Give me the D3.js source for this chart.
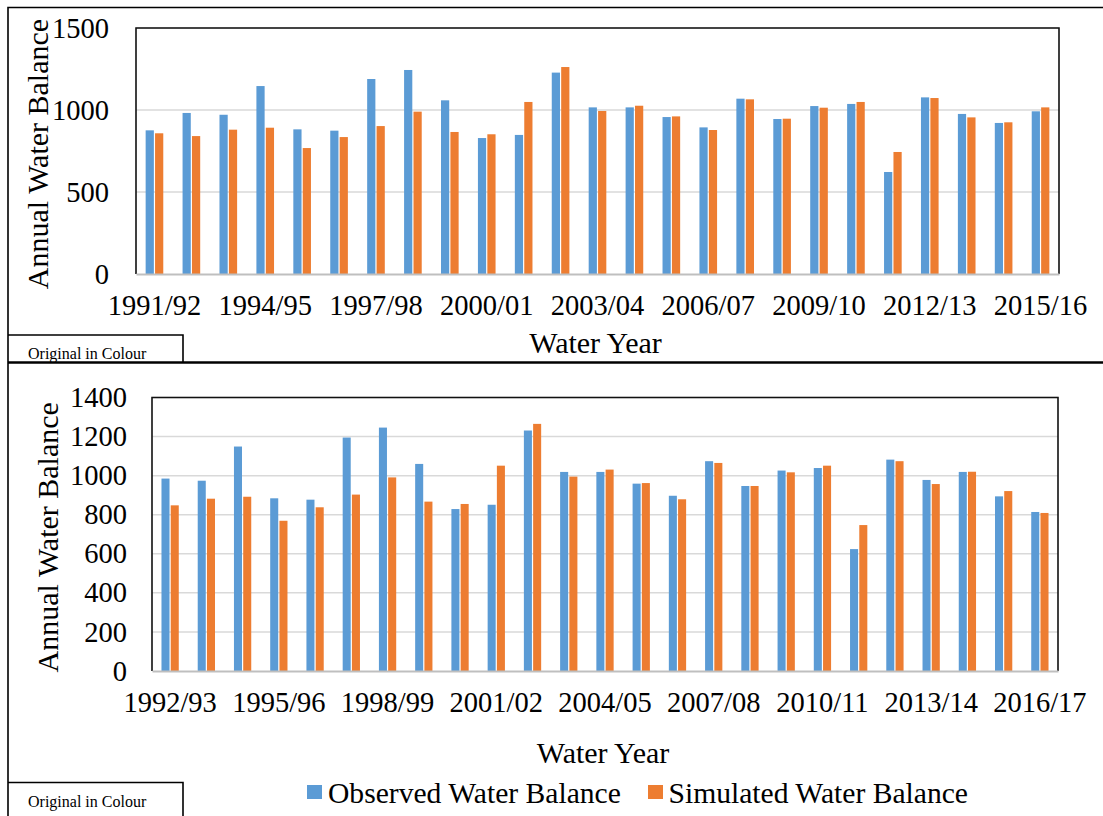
<!DOCTYPE html>
<html>
<head>
<meta charset="utf-8">
<script src="https://cdn.jsdelivr.net/npm/d3@7"></script>
<style>
  html, body { margin: 0; padding: 0; background: #fff; }
  svg { display: block; }
  text { font-family: "Liberation Serif", "Times New Roman", serif; fill: #000; }
</style>
</head>
<body>
<svg id="chart" width="1103" height="816"></svg>
<script>
// ---------- data ----------
const seriesNames = ["Observed Water Balance", "Simulated Water Balance"];
const seriesColors = ["#5B9BD5", "#ED7D31"];

const topCategories = ["1991/92","1992/93","1993/94","1994/95","1995/96","1996/97","1997/98","1998/99","1999/00","2000/01",
  "2001/02","2002/03","2003/04","2004/05","2005/06","2006/07","2007/08","2008/09","2009/10","2010/11",
  "2011/12","2012/13","2013/14","2014/15","2015/16"];
const topObserved  = [876, 982, 971, 1146, 882, 874, 1189, 1244, 1059, 829, 848, 1228, 1016, 1016, 957, 894, 1069, 945, 1024, 1037, 622, 1077, 976, 921, 992];
const topSimulated = [858, 841, 880, 892, 768, 835, 902, 990, 866, 852, 1049, 1262, 994, 1026, 961, 878, 1065, 947, 1014, 1049, 744, 1073, 955, 925, 1016];
const topYTicks = [0, 500, 1000, 1500];
const topXTicks = ["1991/92","1994/95","1997/98","2000/01","2003/04","2006/07","2009/10","2012/13","2015/16"];

const bottomCategories = ["1992/93","1993/94","1994/95","1995/96","1996/97","1997/98","1998/99","1999/00","2000/01","2001/02",
  "2002/03","2003/04","2004/05","2005/06","2006/07","2007/08","2008/09","2009/10","2010/11","2011/12",
  "2012/13","2013/14","2014/15","2015/16","2016/17"];
const bottomObserved  = [985, 974, 1149, 884, 877, 1195, 1246, 1060, 829, 851, 1231, 1019, 1019, 959, 897, 1074, 947, 1026, 1039, 624, 1082, 978, 1019, 894, 814];
const bottomSimulated = [848, 882, 892, 769, 838, 903, 991, 867, 855, 1051, 1265, 995, 1031, 962, 879, 1065, 947, 1017, 1051, 747, 1074, 957, 1020, 921, 809];
const bottomYTicks = [0, 200, 400, 600, 800, 1000, 1200, 1400];
const bottomXTicks = ["1992/93","1995/96","1998/99","2001/02","2004/05","2007/08","2010/11","2013/14","2016/17"];

const yTitle = "Annual Water Balance";
const xTitle = "Water Year";
const stampText = "Original in Colour";

// ---------- drawing ----------
const svg = d3.select("#chart");
const FS = 28.5;
const FT = 30;

function drawPanel(cfg) {
  const g = svg.append("g");
  const x0 = d3.scaleBand().domain(cfg.categories).range([cfg.left, cfg.right])
    .paddingInner(0.49).paddingOuter(0.245);
  const x1 = d3.scaleBand().domain([0, 1]).range([0, x0.bandwidth()]);
  const y = d3.scaleLinear().domain([0, cfg.yMax]).range([cfg.bottom, cfg.top]);

  // gridlines
  g.append("g").selectAll("line").data(cfg.yTicks.filter(d => d > 0)).join("line")
    .attr("x1", cfg.left).attr("x2", cfg.right)
    .attr("y1", d => y(d)).attr("y2", d => y(d))
    .attr("stroke", "#d9d9d9").attr("stroke-width", 1.5);

  // bars
  const rows = cfg.categories.map((c, i) => ({ c, v: [cfg.obs[i], cfg.sim[i]] }));
  const grp = g.append("g").selectAll("g").data(rows).join("g")
    .attr("transform", d => `translate(${x0(d.c)},0)`);
  grp.selectAll("rect").data(d => d.v.map((v, k) => ({ v, k }))).join("rect")
    .attr("x", d => x1(d.k) + 0.6)
    .attr("width", x1.bandwidth() - 1.2)
    .attr("y", d => y(d.v))
    .attr("height", d => cfg.bottom - y(d.v))
    .attr("fill", d => seriesColors[d.k]);

  // frame (left, top, right)
  g.append("path")
    .attr("d", `M${cfg.left},${cfg.bottom} V${cfg.top} H${cfg.right} V${cfg.bottom}`)
    .attr("fill", "none").attr("stroke", "#111").attr("stroke-width", 1.6);

  // x axis
  const xAxis = g.append("g").attr("transform", `translate(0,${cfg.bottom})`)
    .call(d3.axisBottom(x0).tickValues(cfg.xTicks).tickSize(0).tickSizeOuter(0).tickPadding(21));
  xAxis.select(".domain").attr("stroke", "#bfbfbf").attr("stroke-width", 2.2);
  xAxis.selectAll("text").attr("font-size", FS).attr("font-family", "Liberation Serif, serif").attr("fill", "#000");

  // y axis
  const yAxis = g.append("g").attr("transform", `translate(${cfg.left},0)`)
    .call(d3.axisLeft(y).tickValues(cfg.yTicks).tickSize(0).tickPadding(cfg.yPad).tickFormat(d3.format("d")));
  yAxis.select(".domain").remove();
  yAxis.selectAll("text").attr("font-size", FS).attr("font-family", "Liberation Serif, serif").attr("fill", "#000");

  // titles (baseline on the right side after rotation)
  g.append("text").attr("transform", `translate(${cfg.yTitleX},${(cfg.top + cfg.bottom) / 2 + 3}) rotate(-90)`)
    .attr("text-anchor", "middle")
    .attr("font-size", FT).text(yTitle);
  g.append("text").attr("x", (cfg.left + cfg.right) / 2 - 2).attr("y", cfg.xTitleY)
    .attr("text-anchor", "middle").attr("dominant-baseline", "central")
    .attr("font-size", FT).text(xTitle);
}

// outer panel borders
svg.append("path").attr("d", "M8,816 V7.5 H1103").attr("fill", "none").attr("stroke", "#000").attr("stroke-width", 1.6);
svg.append("line").attr("x1", 8).attr("x2", 1103).attr("y1", 362.5).attr("y2", 362.5)
  .attr("stroke", "#000").attr("stroke-width", 2.4);

drawPanel({
  categories: topCategories, obs: topObserved, sim: topSimulated,
  yTicks: topYTicks, xTicks: topXTicks, yMax: 1500,
  left: 136, right: 1059, top: 28, bottom: 274,
  yPad: 27, yTitleX: 47.5, xTitleY: 342
});

drawPanel({
  categories: bottomCategories, obs: bottomObserved, sim: bottomSimulated,
  yTicks: bottomYTicks, xTicks: bottomXTicks, yMax: 1400,
  left: 152, right: 1058, top: 397.5, bottom: 671,
  yPad: 25, yTitleX: 58, xTitleY: 752
});

// "Original in Colour" stamps
[[335, 359], [782.5, 807]].forEach(([top, base]) => {
  svg.append("path").attr("d", `M8,${top} H183 V${top === 335 ? 362 : 816}`)
    .attr("fill", "none").attr("stroke", "#000").attr("stroke-width", 1.6);
  svg.append("text").attr("x", 28).attr("y", base).attr("font-size", 16).text(stampText);
});

// legend
const legendItems = [
  { name: seriesNames[0], color: seriesColors[0], sx: 307, tx: 328 },
  { name: seriesNames[1], color: seriesColors[1], sx: 648, tx: 668.5 }
];
const lg = svg.append("g");
legendItems.forEach(it => {
  lg.append("rect").attr("x", it.sx).attr("y", 785).attr("width", 15).attr("height", 14).attr("fill", it.color);
  lg.append("text").attr("x", it.tx).attr("y", 792.5).attr("dominant-baseline", "central")
    .attr("font-size", 29.6).text(it.name);
});
</script>
</body>
</html>
